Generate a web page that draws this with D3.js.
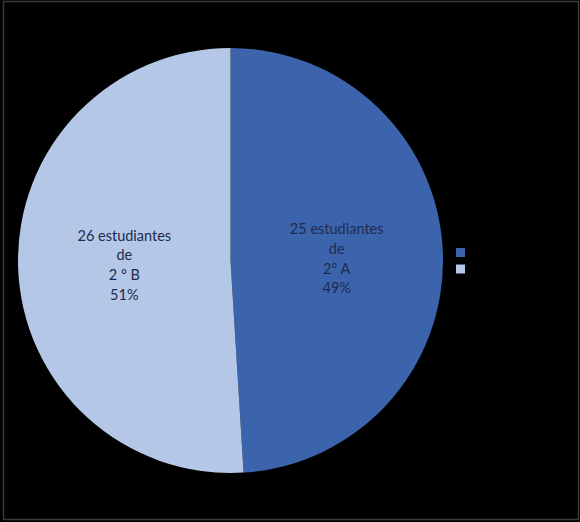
<!DOCTYPE html>
<html>
<head>
<meta charset="utf-8">
<script src="https://cdn.jsdelivr.net/npm/d3@7"></script>
<style>
  body { margin: 0; background: #000; }
  svg { display: block; }
</style>
</head>
<body>
<script>
const width = 580;
const height = 522;

// chart data
const groups = ["2º A", "2 º B"];
const students = [25, 26];
const percents = ["49%", "51%"];
const colors = ["#3c64ad", "#b5c7e7"];

const cx = 230.5, cy = 260.5, radius = 212.5;

let svg = d3.select("body")
            .append("svg")
            .attr("width", width)
            .attr("height", height);

// background and frame
svg.append("rect")
   .attr("x", 3.5).attr("y", 1.5)
   .attr("width", width - 5).attr("height", height - 4)
   .attr("fill", "#000")
   .attr("stroke", "#3a3a3a")
   .attr("stroke-width", 1.5);

let pie = d3.pie().sort(null).value((d) => d);
let arcs = pie(students);

let arc = d3.arc().innerRadius(0).outerRadius(radius);

let g = svg.append("g")
           .attr("transform", "translate(" + cx + "," + cy + ")");

g.selectAll(".slice")
 .data(arcs)
 .enter()
 .append("path")
 .attr("class", "slice")
 .attr("d", arc)
 .attr("fill", (d, i) => colors[i]);

// labels inside the slices
let labelArc = d3.arc().innerRadius(radius * 0.5).outerRadius(radius * 0.5);

g.selectAll(".label")
 .data(arcs)
 .enter()
 .append("text")
 .attr("class", "label")
 .attr("transform", (d) => {
     let c = labelArc.centroid(d);
     return "translate(" + c[0] + "," + (c[1] - 23) + ")";
 })
 .attr("text-anchor", "middle")
 .attr("font-family", "Lato, 'Open Sans', sans-serif")
 .attr("font-size", 14.5)
 .attr("fill", "#1e2b4d")
 .each(function(d, i) {
     let lines = [students[i] + " estudiantes", "de", groups[i], percents[i]];
     d3.select(this).selectAll("tspan")
       .data(lines)
       .enter()
       .append("tspan")
       .attr("x", 0)
       .attr("dy", (l, j) => j === 0 ? 0 : "1.36em")
       .text((l) => l);
 });

// legend swatches
svg.selectAll(".swatch")
   .data(groups)
   .enter()
   .append("rect")
   .attr("class", "swatch")
   .attr("x", 456)
   .attr("y", (d, i) => 248 + i * 16.5)
   .attr("width", 9)
   .attr("height", 9)
   .attr("fill", (d, i) => colors[i]);
</script>
</body>
</html>
